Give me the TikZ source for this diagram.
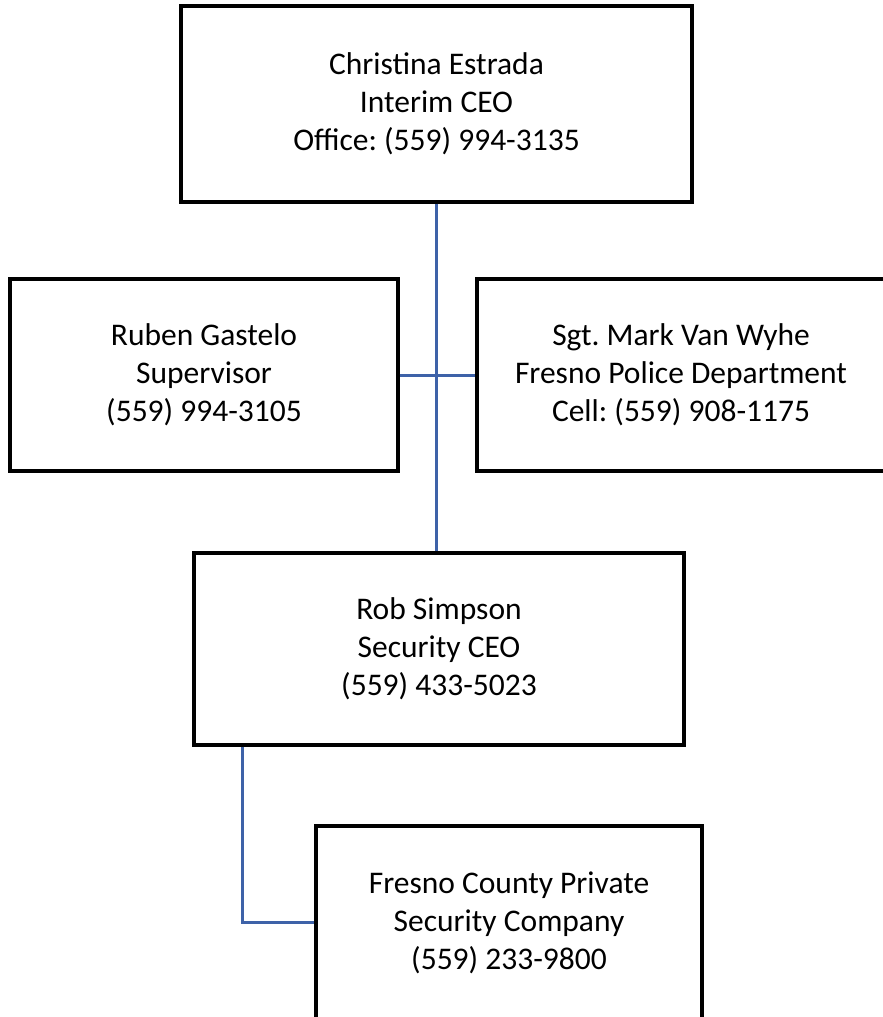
\documentclass[tikz,border=0pt]{standalone}
\usepackage{fontspec}
\setmainfont{Carlito}
\frenchspacing
\definecolor{connblue}{RGB}{62,98,168}
\tikzset{
  orgbox/.style={draw=black, line width=3.2pt, fill=white, rectangle, align=center,
    inner sep=0pt, font=\fontsize{31.5}{38}\selectfont},
  conn/.style={draw=connblue, line width=3pt}
}
\begin{document}
\begin{tikzpicture}[x=1pt,y=-1pt]
\useasboundingbox (0,0) rectangle (883,1017);
\clip (0,0) rectangle (883,1017);
\node[orgbox, minimum width=511pt, minimum height=196pt] (top) at (436.5,104)
  {Christina Estrada\\Interim CEO\\Office: (559) 994-3135};
\node[orgbox, minimum width=388pt, minimum height=192pt] (left) at (204,375)
  {Ruben Gastelo\\Supervisor\\(559) 994-3105};
\node[orgbox, minimum width=408pt, minimum height=192pt] (right) at (681,375)
  {Sgt. Mark Van Wyhe\\Fresno Police Department\\Cell: (559) 908-1175};
\node[orgbox, minimum width=490pt, minimum height=192pt] (mid) at (439,649)
  {Rob Simpson\\Security CEO\\(559) 433-5023};
\node[orgbox, minimum width=386pt, minimum height=193pt] (bot) at (509,922.5)
  {Fresno County Private\\Security Company\\(559) 233-9800};
\draw[conn] (top.south) -- (top.south |- mid.north);
\draw[conn] (left.east) -- (right.west);
\draw[conn] ([xshift=50pt]mid.south west) |- (bot.west);
\end{tikzpicture}
\end{document}
